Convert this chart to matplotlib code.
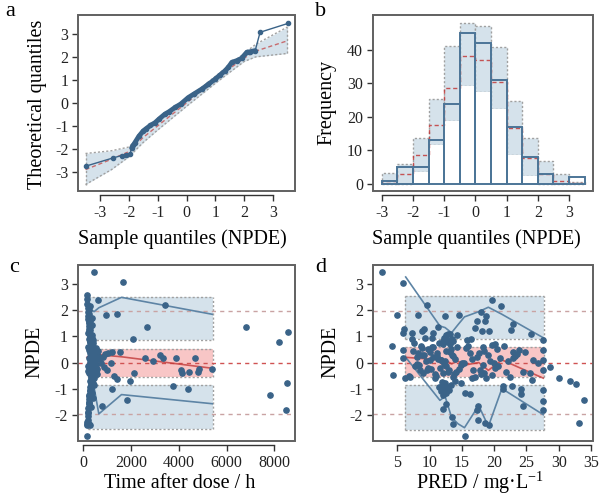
import matplotlib
matplotlib.use("Agg")
import matplotlib.pyplot as plt
import numpy as np

plt.rcParams['font.family'] = ['Liberation Serif', 'DejaVu Serif']
plt.rcParams['mathtext.fontset'] = 'custom'
plt.rcParams['mathtext.rm'] = 'Liberation Serif'
plt.rcParams['mathtext.it'] = 'Liberation Serif:italic'
plt.rcParams['axes.unicode_minus'] = False

# ---------------- data ----------------
# panel a: QQ plot (sample quantiles vs theoretical quantiles)
qq_sample = [-3.49, -2.54, -2.25, -2.10, -1.96, -1.90, -1.85, -1.79, -1.65, -1.50, -1.40, -1.25,
             -1.09, -0.95, -0.75, -0.60, -0.40, -0.20, 0.06, 0.25, 0.53, 0.75, 0.99, 1.15,
             1.34, 1.45, 1.57, 1.75, 1.91, 2.09, 2.20, 2.38, 2.55, 3.53]
qq_theory = [-2.75, -2.39, -2.29, -2.27, -2.24, -1.95, -1.85, -1.73, -1.45, -1.22, -1.12, -0.98,
             -0.86, -0.70, -0.49, -0.38, -0.20, -0.05, 0.23, 0.38, 0.60, 0.80, 1.03, 1.20,
             1.40, 1.55, 1.76, 1.84, 1.94, 2.20, 2.22, 2.27, 3.07, 3.46]
qq_band_x = [-3.5, -2.6, -2.0, -1.5, -1.0, 0.0, 1.0, 1.5, 2.0, 2.4, 3.5]
qq_band_lo = [-3.55, -2.90, -2.35, -1.72, -1.18, -0.15, 0.85, 1.33, 1.80, 2.00, 2.15]
qq_band_hi = [-2.20, -2.08, -1.92, -1.30, -0.82, 0.15, 1.15, 1.66, 2.15, 2.55, 3.30]
qq_band_med = [-2.90, -2.45, -2.12, -1.50, -1.00, 0.00, 1.00, 1.50, 1.95, 2.25, 2.70]

# panel b: histogram of NPDE
bin_edges = [-3.0, -2.5, -2.0, -1.5, -1.0, -0.5, 0.0, 0.5, 1.0, 1.5, 2.0, 2.5, 3.0, 3.5]
obs_freq = [1, 5, 5, 13, 24, 45, 42, 31, 17, 8, 3, 0, 2]
pi_lo = [0, 0, 3.5, 11.6, 18.8, 29.3, 27.3, 22.3, 8.5, 2.3, 0, 0, 0]
pi_hi = [3.3, 6.0, 13.7, 25.3, 41.2, 48.0, 47.2, 40.8, 24.8, 13.7, 6.8, 2.9, 0.6]
pi_med = [0.8, 3.0, 8.6, 17.7, 28.6, 38.2, 37.0, 30.3, 16.8, 7.8, 3.0, 0.8, 0.2]

# panel c: NPDE vs time after dose
c_time = [447, 1676, 3422, 600, 936, 1397, 2682, 2067, 6800, 8198, 8561, 8533, 7821, 8492, 168,
          796, 1816, 1187, 1955, 2109, 2584, 2933, 3212, 3352, 3869, 3743, 4148, 4092, 4441,
          4400, 4679, 4846, 4818, 5377, 1299, 1397, 1215, 1536, 1047, 908, 1159, 880, 978, 740,
          698, 838,
          # dense early cluster
          150, 180, 200, 220, 240, 260, 280, 300, 320, 340, 360, 380, 400, 420, 450, 480, 520, 560,
          160, 190, 210, 230, 250, 270, 290, 310, 330, 350, 370, 390, 410, 440, 470, 500, 540, 600,
          170, 195, 215, 235, 255, 275, 295, 315, 335, 355, 375, 395, 415, 435, 465, 495, 530, 620,
          140, 185, 205, 225, 245, 265, 285, 305, 325, 345, 365, 385, 405, 425, 455, 490, 515, 580,
          155, 175, 230, 260, 290, 320, 350, 380, 410, 440, 250, 300, 360, 210, 330, 460, 275, 395,
          240, 310, 370, 430, 200, 280, 345, 265, 325, 385, 225, 295,
          190, 215, 245, 270, 300, 335, 360, 390, 220, 255, 285, 315, 345, 375, 200, 235, 265, 305,
          340, 205, 260, 318, 280, 230, 350, 250, 290, 330]
c_npde = [3.48, 3.09, 2.21, 2.38, 1.82, 1.86, 1.36, 0.91, 1.36, 0.78, 1.18, -0.78, -1.23, -1.84, -2.82,
          -1.65, -1.45, -1.00, -0.70, -0.39, 0.17, 0.04, 0.29, 0.19, 0.19, -0.90, -0.39, -0.29, -0.36,
          -1.00, 0.19, -0.26, -0.35, -0.26, -0.52, -0.64, 0.39, 0.39, 0.36, 0.34, -0.03, -0.16, -0.29,
          -0.03, 0.17, 0.23,
          2.45, 2.10, 1.80, 1.55, 1.30, 1.10, 0.95, 0.80, 0.70, 0.60, 0.50, 0.40, 0.30, 0.20, 0.10, 0.00, -0.10, -0.25,
          -2.35, -2.05, -1.75, -1.50, -1.30, -1.10, -0.95, -0.80, -0.70, -0.60, -0.50, -0.40, -0.30, -0.20, -0.10, 0.05, 0.15, 0.25,
          2.25, 1.95, 1.65, 1.40, 1.20, 1.00, 0.85, 0.72, 0.62, 0.52, 0.42, 0.32, 0.22, 0.12, 0.02, -0.08, -0.35, 0.45,
          -2.40, -2.20, -1.90, -1.60, -1.40, -1.20, -1.05, -0.88, -0.75, -0.65, -0.55, -0.45, -0.35, -0.15, -0.05, 0.35, 0.55, -0.45,
          2.60, -2.30, 0.90, 0.65, 0.15, -0.25, 1.45, -1.15, 0.75, -0.85, 2.00, -2.38, 1.70, -1.95, 0.05, -0.60, 1.25, -1.35,
          0.48, -0.58, 1.05, 0.28, -0.15, -0.70, 0.35, 1.60, -1.70, 0.85, -2.35, 2.15,
          1.15, 0.58, -0.42, 0.02, 0.88, -0.12, 0.66, -0.78, 1.85, -1.55, 0.38, -0.22, 0.95, -0.62, -2.32, 0.18, 1.35, -1.02,
          0.48, -0.32, 0.78, -0.52, -0.08, 1.52, 0.28, -1.25, 0.58, -0.02]
c_bin_x = [150, 300, 450, 650, 1600, 5400]
c_p95 = [2.20, 2.05, 1.95, 2.10, 2.50, 1.85]
c_p50 = [0.20, 0.30, 0.25, 0.30, 0.22, -0.22]
c_p05 = [-2.10, -1.40, -0.95, -1.97, -1.23, -1.58]
c_pi_x = [180, 5420]
c_hi_top = [2.53, 2.53]
c_hi_bot = [0.88, 0.88]
c_mid_top = [0.52, 0.52]
c_mid_bot = [-0.55, -0.55]
c_lo_top = [-0.87, -0.87]
c_lo_bot = [-2.56, -2.56]

# panel d: NPDE vs PRED
d_pred = [2.68, 5.83, 4.90, 4.13, 4.39, 5.83, 5.93, 5.93, 6.10, 7.20, 8.25, 8.87, 9.54, 10.57, 11.35,
          12.38, 14.60, 12.54, 13.15, 13.57, 12.10, 6.20, 7.00, 11.90, 11.70, 12.60, 12.00, 13.57,
          13.40, 15.50, 16.25, 15.50, 17.45, 17.30, 17.55, 17.40, 17.00, 18.05, 12.60,
          19.60, 21.00, 22.96, 22.55, 19.25, 17.90, 18.80, 18.60, 25.65, 27.60, 27.60, 28.60, 30.00,
          31.70, 32.60, 33.90, 33.10, 19.60, 20.10, 21.60, 23.50, 23.90, 26.00, 26.80, 22.96, 24.50,
          25.50, 25.80, 27.60, 27.60, 21.30, 24.20, 24.20, 24.40, 27.50, 27.50, 27.50, 21.40, 22.70,
          18.60, 19.25, 17.80, 18.30, 19.90, 20.60, 22.20, 22.40, 19.60, 18.80, 20.90, 22.96,
          # dense middle region
          7.5, 8.0, 8.4, 8.8, 9.2, 9.6, 10.0, 10.4, 10.8, 11.2, 11.6, 12.0, 12.4, 12.8, 13.2, 13.6, 14.0, 14.5,
          7.8, 8.2, 8.6, 9.0, 9.4, 9.8, 10.2, 10.6, 11.0, 11.4, 11.8, 12.2, 12.6, 13.0, 13.4, 13.8, 14.3, 15.0,
          7.2, 8.1, 8.9, 9.7, 10.5, 11.3, 12.1, 12.9, 13.7, 14.8, 15.6, 16.2, 16.8, 17.3, 18.0, 18.5, 19.0, 20.2,
          6.8, 7.6, 8.5, 9.3, 10.1, 10.9, 11.7, 12.5, 13.3, 14.1, 15.3, 16.0, 16.6, 17.1, 17.7, 18.4, 19.3, 20.5,
          12.2, 12.7, 13.1, 13.5, 12.4, 12.9, 13.3, 11.9, 12.3, 13.0, 14.2, 15.8, 16.5, 21.8, 23.2, 24.8,
          9.1, 10.3, 11.5, 12.8, 14.9, 16.4, 18.2, 11.1, 13.9, 12.0]
d_npde = [3.48, 3.06, 1.82, 0.65, -0.48, 0.47, 0.17, 1.12, 1.30, 1.14, 1.82, 1.21, 2.20, 1.14, 1.36,
          1.79, 1.83, 1.04, 1.08, 0.82, 0.82, -0.60, -0.54, -0.73, -1.10, -1.17, -1.77, -2.36,
          -2.10, -1.16, -1.20, -2.81, -1.68, -1.84, -2.19, 1.60, 1.34, 1.20, -1.58,
          2.41, 2.15, 1.47, 1.25, 1.21, 1.92, 1.79, 1.60, 1.08, 0.86, 0.47, -0.18, -0.61,
          -0.70, -0.84, -1.45, -2.33, 0.69, 0.72, 0.65, 0.34, 0.47, 0.11, -0.02, 0.17, -0.35,
          -0.41, -0.67, 0.11, -0.28, -0.90, -1.03, -1.22, -1.68, -1.06, -1.48, -1.84, -1.03, -0.90,
          -2.33, -2.38, -0.28, -0.09, -0.02, -0.15, 0.04, -0.54, -0.48, -0.61, 0.17, 0.39,
          0.45, 0.20, -0.10, 0.55, 0.30, -0.30, 0.10, 0.60, -0.45, 0.25, -0.20, 0.70, 0.05, -0.35, 0.40, -0.55, 0.15, -0.25,
          -0.15, 0.35, 0.65, -0.40, 0.05, 0.50, -0.25, 0.20, -0.50, 0.75, 0.10, -0.05, 0.45, -0.30, 0.30, -0.45, 0.60, 0.00,
          0.90, -0.05, 0.30, -0.20, 0.60, 0.15, -0.40, 0.80, 0.25, -0.10, 0.55, 0.35, -0.30, 0.20, -0.45, 0.45, 0.30, -0.20,
          -0.50, 0.75, -0.30, 0.95, 0.40, -0.60, 0.10, -0.15, 0.50, -0.35, 0.00, 0.65, 0.15, -0.55, 0.35, -0.40, 0.05, 0.50,
          0.95, 0.85, 0.70, 0.90, -0.80, -0.95, -0.85, -0.90, -1.00, -1.05, 1.05, 0.85, -0.60, -0.35, 0.25, 0.40,
          1.30, 0.95, -0.95, 1.10, -0.80, 0.90, 0.60, 0.35, -0.70, -1.25]
d_bin_x = [6.3, 11.6, 12.4, 13.4, 14.4, 15.4, 17.6, 19.1, 21.2, 27.6]
d_p95 = [3.28, 1.40, 1.34, 1.14, 1.45, 1.75, 1.95, 2.12, 1.85, 0.95]
d_p50 = [0.20, 0.10, 0.10, -0.05, 0.05, -0.10, 0.00, -0.30, 0.10, -0.60]
d_p05 = [0.20, -1.45, -1.30, -2.10, -2.35, -2.50, -1.65, -2.45, -1.00, -2.00]
d_pi_x = [6.2, 27.7]
d_hi_top = [2.57, 2.57]
d_hi_bot = [0.90, 0.90]
d_mid_top = [0.60, 0.60]
d_mid_bot = [-0.55, -0.55]
d_lo_top = [-0.87, -0.87]
d_lo_bot = [-2.57, -2.57]

# ---------------- style ----------------
PT = '#3a6388'
LINE = '#5d84a5'
BLUE_BAND = '#d5e2eb'
RED_BAND = '#f8c6c6'
EDGE = '#a0a0a0'
MED = '#c23a3a'
REF2 = '#c9a3a3'
FRAME = '#606060'
LAB = 14.5
TICK = 11.5

W, H = 601, 495
fig = plt.figure(figsize=(W / 100, H / 100), dpi=100)


def mk_ax(x0, y0, x1, y1, offset):
    ax = fig.add_axes([x0 / W, 1 - y1 / H, (x1 - x0) / W, (y1 - y0) / H])
    for s in ['top', 'right', 'left']:
        ax.spines[s].set_visible(False)
    ax.spines['bottom'].set_position(('outward', offset))
    ax.spines['bottom'].set_linewidth(1.0)
    ax.spines['bottom'].set_color('#333333')
    ax.add_patch(plt.Rectangle((0, 0), 1, 1, transform=ax.transAxes, fill=False,
                               edgecolor=FRAME, linewidth=1.4, zorder=10, clip_on=False))
    ax.tick_params(axis='both', labelsize=TICK, length=4, width=1.0, color='#333333',
                   labelcolor='#222222', pad=3)
    return ax


def place_labels(ax, xlabel, ylabel, xl_xy, yl_xy):
    ax.set_xlabel(xlabel, fontsize=LAB, va='center', ha='center')
    ax.set_ylabel(ylabel, fontsize=LAB, va='center', ha='center')
    ax.xaxis.set_label_coords(xl_xy[0] / W, 1 - xl_xy[1] / H, transform=fig.transFigure)
    ax.yaxis.set_label_coords(yl_xy[0] / W, 1 - yl_xy[1] / H, transform=fig.transFigure)


def band(ax, x, lo, hi, color):
    ax.fill_between(x, lo, hi, color=color, linewidth=0, zorder=1)
    ax.plot(x, lo, ls=(0, (1.5, 1.5)), color=EDGE, lw=1.0, zorder=2)
    ax.plot(x, hi, ls=(0, (1.5, 1.5)), color=EDGE, lw=1.0, zorder=2)
    ax.plot([x[0], x[0]], [lo[0], hi[0]], ls=(0, (1.5, 1.5)), color=EDGE, lw=1.0, zorder=2)
    ax.plot([x[-1], x[-1]], [lo[-1], hi[-1]], ls=(0, (1.5, 1.5)), color=EDGE, lw=1.0, zorder=2)


# ----- panel a -----
axa = mk_ax(78, 15, 295, 191, 3)
band(axa, qq_band_x, qq_band_lo, qq_band_hi, BLUE_BAND)
axa.plot(qq_band_x, qq_band_med, ls=(0, (3, 2)), color=MED, lw=1.0, alpha=0.7, zorder=3)
axa.plot(qq_sample, qq_theory, color=PT, lw=1.0, zorder=4)
axa.plot(qq_sample[5:32], qq_theory[5:32], color=PT, lw=3.5, zorder=4, solid_capstyle='round')
axa.plot(qq_sample, qq_theory, 'o', color=PT, ms=3, zorder=5)
axa.set_xlim(-3.76, 3.76)
axa.set_ylim(-3.83, 3.82)
axa.set_xticks(range(-3, 4))
axa.set_yticks(range(-3, 4))
axa.spines['bottom'].set_bounds(-3, 3)
place_labels(axa, 'Sample quantiles (NPDE)', 'Theoretical quantiles', (182, 239), (38, 104))

# ----- panel b -----
axb = mk_ax(372.7, 15, 593, 191, 3)
lefts = bin_edges[:-1]
axb.bar(lefts, obs_freq, width=0.5, align='edge', color='white', edgecolor='none', zorder=1)
for i, l in enumerate(lefts):
    if pi_hi[i] > 0:
        axb.add_patch(plt.Rectangle((l, pi_lo[i]), 0.5, pi_hi[i] - pi_lo[i], facecolor=BLUE_BAND,
                                    edgecolor=EDGE, ls=(0, (1.5, 1.5)), lw=1.0, zorder=2))
for i, l in enumerate(lefts):
    axb.add_patch(plt.Rectangle((l, 0), 0.5, min(pi_lo[i], obs_freq[i]), facecolor='white',
                                edgecolor='none', zorder=2.5))
axb.stairs(pi_med, bin_edges, color=MED, ls=(0, (3, 2)), lw=1.0, zorder=3, alpha=0.85)
axb.bar(lefts, obs_freq, width=0.5, align='edge', fill=False, edgecolor='#4c7597', lw=1.4, zorder=4)
axb.set_xlim(-3.29, 3.77)
axb.set_ylim(-2.1, 50.4)
axb.set_xticks(range(-3, 4))
axb.set_yticks(range(0, 41, 10))
axb.spines['bottom'].set_bounds(-3, 3)
place_labels(axb, 'Sample quantiles (NPDE)', 'Frequency', (476, 239), (327, 102))


def npde_panel(ax, xs, ys, bx, p95, p50, p05, px, hit, hib, mt, mb, lt, lb, xlim):
    band(ax, px, hib, hit, BLUE_BAND)
    band(ax, px, mb, mt, RED_BAND)
    band(ax, px, lb, lt, BLUE_BAND)
    for yv in (-1.96, 1.96):
        ax.axhline(yv, color=REF2, ls=(0, (3, 3)), lw=1.0, zorder=2.5)
    ax.axhline(0, color='#d05252', ls=(0, (3, 3)), lw=1.0, zorder=2.5)
    ax.plot(bx, p95, color=LINE, lw=1.2, zorder=3)
    ax.plot(bx, p05, color=LINE, lw=1.2, zorder=3)
    ax.plot(bx, p50, color=MED, lw=1.2, zorder=3, alpha=0.8)
    ax.plot(xs, ys, 'o', color=PT, ms=3.8, mec=PT, zorder=5)
    ax.set_xlim(*xlim)
    ax.set_ylim(-3.01, 3.74)
    ax.set_yticks(range(-2, 4))


# ----- panel c -----
axc = mk_ax(77.7, 265, 295, 441, 3)
npde_panel(axc, c_time, c_npde, c_bin_x, c_p95, c_p50, c_p05, c_pi_x,
           c_hi_top, c_hi_bot, c_mid_top, c_mid_bot, c_lo_top, c_lo_bot, (-235, 8867))
axc.set_xticks(range(0, 8001, 2000))
axc.spines['bottom'].set_bounds(0, 8000)
place_labels(axc, 'Time after dose / h', 'NPDE', (180, 484), (35, 352))

# ----- panel d -----
axd = mk_ax(372.7, 265, 592.7, 441, 3)
npde_panel(axd, d_pred, d_npde, d_bin_x, d_p95, d_p50, d_p05, d_pi_x,
           d_hi_top, d_hi_bot, d_mid_top, d_mid_bot, d_lo_top, d_lo_bot, (1.19, 35.26))
axd.set_xticks(range(5, 36, 5))
axd.spines['bottom'].set_bounds(5, 35)
place_labels(axd, 'PRED / mg·L$^{-1}$', 'NPDE', (480, 483), (331, 352))

# panel letters
for lab, (x, y) in zip('abcd', [(10, 12), (321, 12), (14, 268), (321, 267)]):
    fig.text(x / W, 1 - y / H, lab, fontsize=16, ha='center', va='center')

fig.savefig('out.png', dpi=100)
